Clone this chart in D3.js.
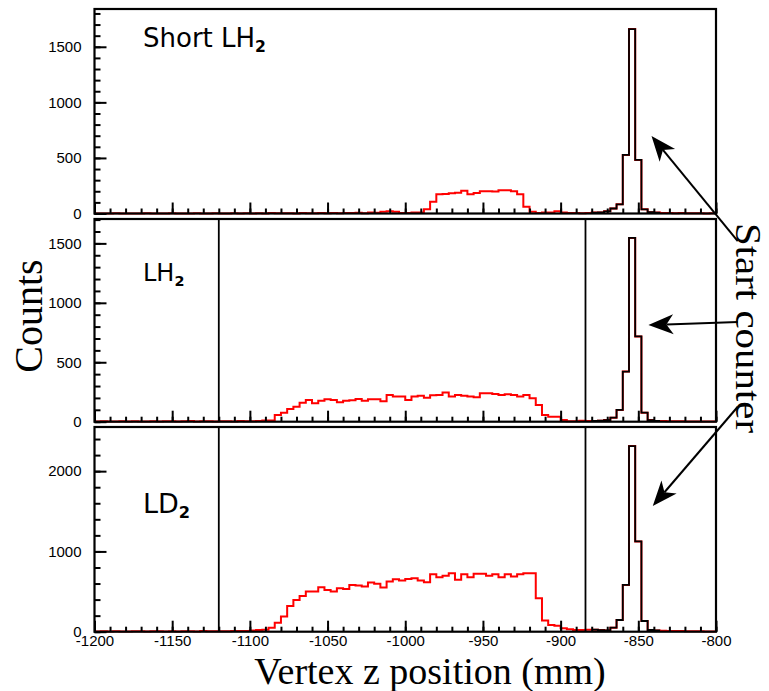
<!DOCTYPE html>
<html><head><meta charset="utf-8">
<script src="https://cdn.jsdelivr.net/npm/d3@7"></script>
<style>body{margin:0;background:#fff}</style>
</head><body><svg id="c" width="769" height="691"></svg>
<script>
// ---------- data ----------
const xMin = -1200, xMax = -800, binWidth = 4;
const xMajorTicks = [-1200,-1150,-1100,-1050,-1000,-950,-900,-850,-800];
const xMinorStep = 10;
const panelLabels = ["Short LH", "LH", "LD"];
const yMaxes = [1840, 1705, 2550];
const yMajorTicks = [[0,500,1000,1500],[0,500,1000,1500],[0,1000,2000]];
const yMinorSteps = [100, 100, 200];
const cutLines = [-1120, -884];
const startCounterRange = [-880, -836];

const shortLH2 = [
 0,1,0,2,0,1,0,0,2,1,
 0,1,2,0,1,0,3,1,0,2,
 1,0,2,1,3,0,2,1,4,2,
 3,2,1,4,2,3,5,2,4,3,
 5,4,6,3,8,6,
 16,20,16,5,5,10,10,
 38,106,173,175,182,187,205,173,185,200,200,198,210,210,200,173,
 60,15,5,8,10,20,10,5,4,3,5,
 8,10,20,45,83,527,1659,482,38,12,8,
 5,4,3,4,2,3,2,1,2];
const lh2 = [
 2,3,1,2,4,2,3,1,2,3,
 2,4,3,2,3,5,2,4,3,2,
 3,4,2,5,3,4,6,
 10,11,
 56,76,107,126,160,183,155,177,188,183,163,177,180,191,177,188,188,171,225,211,211,
 183,211,219,202,222,225,245,211,225,219,211,205,239,239,233,225,230,225,211,225,197,140,
 56,42,42,14,3,3,8,5,6,8,14,34,99,422,1546,717,76,14,
 6,5,4,3,3,2,2,2,1,1];
const ld2 = [
 3,5,2,6,4,3,7,5,4,6,
 5,3,6,4,7,5,4,8,6,5,
 7,6,8,
 8,10,15,21,25,50,
 112,188,321,396,446,500,500,554,521,500,542,533,583,575,563,612,596,550,625,654,
 637,658,667,637,617,717,679,696,729,646,717,679,721,721,696,717,679,717,688,717,729,729,
 417,138,83,75,42,29,21,21,25,25,20,15,50,146,583,2312,1125,133,21,
 15,12,10,8,8,6,5,5,4,4];
const series = [shortLH2, lh2, ld2];
// arrows: tail and tip in data units of the panel they belong to
const arrows = [
 {panel:0, from:[-786,-248], to:[-841.5,697]},
 {panel:1, from:[-786,838], to:[-843.5,813]},
 {panel:2, from:[-786,2802], to:[-840.7,1567]}
];

// ---------- layout ----------
const svg = d3.select("#c");
const plotL = 94.5, plotR = 716;
const tops = [9, 219, 427], bottoms = [213.5, 421.7, 631.7];
const x = d3.scaleLinear().domain([xMin, xMax]).range([plotL, plotR]);

const ys = [];
series.forEach((data, p) => {
  const y = d3.scaleLinear().domain([0, yMaxes[p]]).range([bottoms[p], tops[p]]);
  ys.push(y);
  const g = svg.append("g");

  const pts = data.map((v, i) => [xMin + i * binWidth, v]);
  pts.push([xMax, data[data.length - 1]]);
  const line = d3.line().x(d => x(d[0])).y(d => y(d[1])).curve(d3.curveStepAfter);
  g.append("path").attr("d", line(pts)).attr("fill", "none")
    .attr("stroke", "#ff0000").attr("stroke-width", 2);

  const bpts = pts.filter(d => d[0] >= startCounterRange[0] && d[0] < startCounterRange[1]);
  bpts.push([startCounterRange[1], bpts[bpts.length - 1][1]]);
  g.append("path").attr("d", line(bpts)).attr("fill", "none")
    .attr("stroke", "#000").attr("stroke-width", 1.8);

  if (p > 0) {
    cutLines.forEach(c => {
      g.append("line").attr("x1", x(c)).attr("x2", x(c))
        .attr("y1", tops[p]).attr("y2", bottoms[p])
        .attr("stroke", "#000").attr("stroke-width", 1.8);
    });
  }

  // axes
  const yMinor = d3.range(0, yMaxes[p], yMinorSteps[p]);
  g.append("g").attr("transform", `translate(${plotL},0)`)
    .call(d3.axisLeft(y).tickValues(yMinor).tickSize(-6).tickFormat(""))
    .call(a => a.select(".domain").remove());
  g.append("g").attr("class", "ylab").attr("transform", `translate(${plotL},0)`)
    .call(d3.axisLeft(y).tickValues(yMajorTicks[p]).tickSize(-12).tickPadding(13).tickFormat(d => String(d)))
    .call(a => a.select(".domain").remove());
  const xMinor = d3.range(xMin, xMax + 1, xMinorStep);
  g.append("g").attr("transform", `translate(0,${bottoms[p]})`)
    .call(d3.axisBottom(x).tickValues(xMinor).tickSize(-5).tickFormat(""))
    .call(a => a.select(".domain").remove());
  g.append("g").attr("class", "xlab").attr("transform", `translate(0,${bottoms[p]})`)
    .call(d3.axisBottom(x).tickValues(xMajorTicks).tickSize(-11).tickPadding(4)
      .tickFormat(p === 2 ? (d => String(d)) : ""))
    .call(a => a.select(".domain").remove());

  g.append("rect").attr("x", plotL).attr("y", tops[p])
    .attr("width", plotR - plotL).attr("height", bottoms[p] - tops[p])
    .attr("fill", "none").attr("stroke", "#000").attr("stroke-width", 2.2);
});

svg.selectAll(".tick line").attr("stroke", "#000").attr("stroke-width", 2);
svg.selectAll(".tick text").attr("fill", "#000")
  .style("font-family", "'Liberation Sans', Arial, sans-serif").style("font-size", "15px");

// panel labels
const labelPos = [[143, 46.7, 26], [143, 280.7, 24], [143, 512.5, 27]];
panelLabels.forEach((t, p) => {
  const [lx, ly, fs] = labelPos[p];
  const txt = svg.append("text").attr("x", lx).attr("y", ly)
    .style("font-family", "'DejaVu Sans', sans-serif").style("font-size", fs + "px");
  txt.append("tspan").text(t);
  txt.append("tspan").attr("dy", 5).style("font-size", (fs * 0.6) + "px")
    .style("font-weight", "bold").text("2");
});

// axis titles
svg.append("text").attr("transform", "translate(42,316) rotate(-90)")
  .attr("text-anchor", "middle")
  .style("font-family", "'Liberation Serif', 'Times New Roman', serif").style("font-size", "40px")
  .text("Counts");
svg.append("text").attr("x", 430).attr("y", 684).attr("text-anchor", "middle")
  .style("font-family", "'Liberation Serif', 'Times New Roman', serif").style("font-size", "38px")
  .text("Vertex z position (mm)");
svg.append("text").attr("transform", "translate(736,328) rotate(90)")
  .attr("text-anchor", "middle")
  .attr("textLength", 210).attr("lengthAdjust", "spacingAndGlyphs")
  .style("font-family", "'Liberation Serif', 'Times New Roman', serif").style("font-size", "35px")
  .text("Start counter");

// arrows
arrows.forEach(a => {
  const y = ys[a.panel];
  const x0 = x(a.from[0]), y0 = y(a.from[1]), x1 = x(a.to[0]), y1 = y(a.to[1]);
  const dx = x1 - x0, dy = y1 - y0, len = Math.hypot(dx, dy);
  const ux = dx / len, uy = dy / len, nx = -uy, ny = ux;
  const L = 25, Wd = 10, notch = 7;
  svg.append("line").attr("x1", x0).attr("y1", y0)
    .attr("x2", x1 - ux * (L - notch)).attr("y2", y1 - uy * (L - notch))
    .attr("stroke", "#000").attr("stroke-width", 2);
  const head = [
    [x1, y1],
    [x1 - ux * L + nx * Wd, y1 - uy * L + ny * Wd],
    [x1 - ux * (L - notch), y1 - uy * (L - notch)],
    [x1 - ux * L - nx * Wd, y1 - uy * L - ny * Wd]
  ];
  svg.append("path").attr("d", "M" + head.map(p => p.join(",")).join("L") + "Z").attr("fill", "#000");
});
</script>
</body></html>
